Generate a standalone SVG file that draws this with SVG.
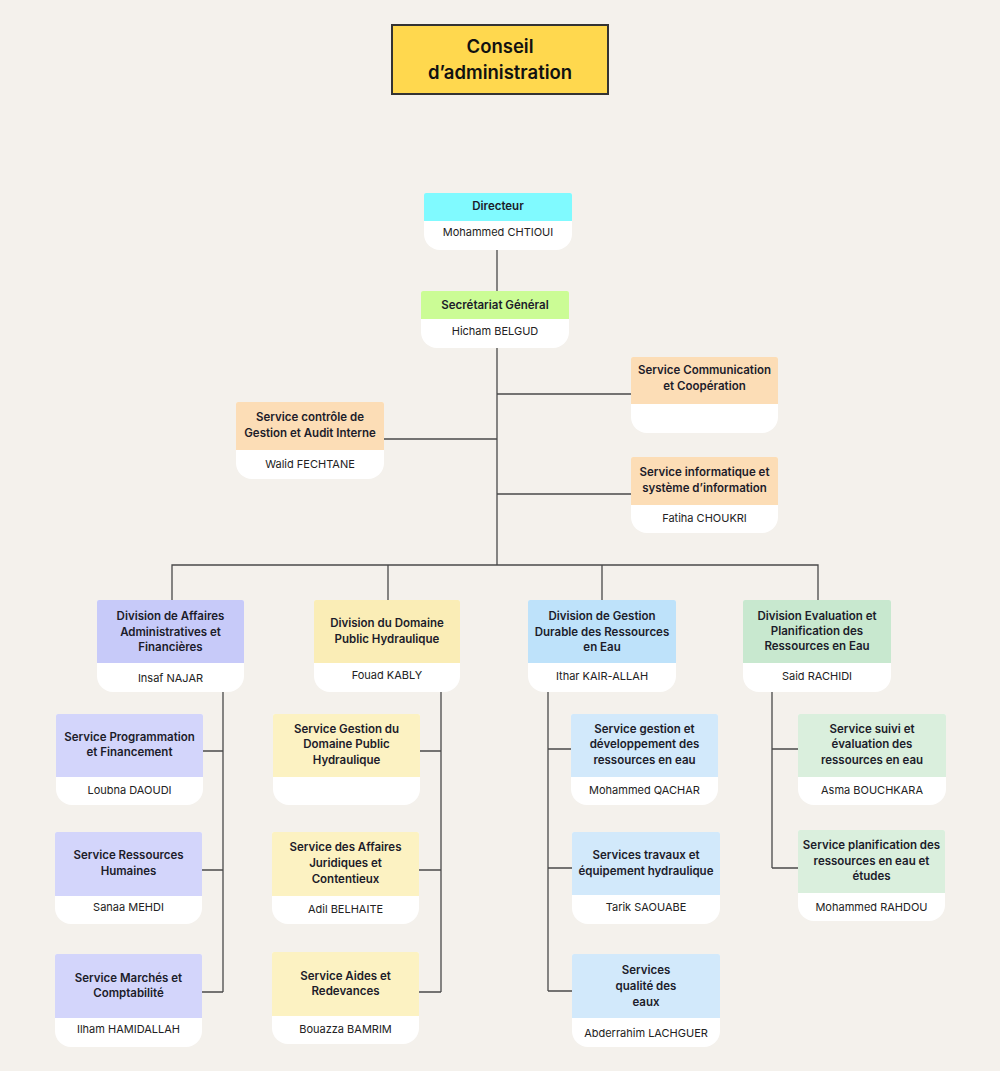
<svg xmlns="http://www.w3.org/2000/svg" width="1000" height="1071" viewBox="0 0 1000 1071">
<style>
.t{font-family:Inter,"Noto Sans","Liberation Sans",sans-serif;font-size:11.5px;font-weight:600;fill:#1c1c2a;text-anchor:middle}
.n{font-family:Inter,"Noto Sans","Liberation Sans",sans-serif;font-size:11px;font-weight:400;fill:#222;text-anchor:middle}
.c{font-family:Inter,"Noto Sans","Liberation Sans",sans-serif;font-size:18.5px;font-weight:600;fill:#111;text-anchor:middle}
.w{fill:#fff}
.line{fill:none;stroke:#4a4a4a;stroke-width:1.3}
.cy{fill:#80FAFF}.gr{fill:#CBFC95}.or{fill:#FCDDB6}
.pd{fill:#C7CAF9}.ps{fill:#D3D5FB}
.yd{fill:#FAEDB6}.ys{fill:#FCF2C2}
.bd{fill:#BEE2FA}.bs{fill:#D2E9FB}
.gd{fill:#C8E8CF}.gs{fill:#DAEFDD}
</style>
<rect width="1000" height="1071" fill="#F4F1EC"/>
<g id="connectors">
<path class="line" d="M497 250V291M497 348V565M497 394H631M384 439H497M497 494H631"/>
<path class="line" d="M172 600V565H818V600M388 565V600M602 565V600"/>
<path class="line" d="M223 692V992M203 751H223M202 870H223M202 992H223"/>
<path class="line" d="M441 692V992M420 751H441M419 870H441M419 992H441"/>
<path class="line" d="M548 692V991M548 749H571M548 868H572M548 991H572"/>
<path class="line" d="M772 692V868M772 749H798M772 868H798"/>
</g>
<g id="conseil">
<rect x="392" y="25" width="216" height="69" fill="#FFD84E" stroke="#333" stroke-width="2"/>
<text class="c" x="500" y="53">Conseil</text>
<text class="c" x="500" y="79">d’administration</text>
</g>
<g id="directeur">
<path class="w" d="M426 193H570A2 2 0 0 1 572 195V234A16 16 0 0 1 556 250H440A16 16 0 0 1 424 234V195A2 2 0 0 1 426 193Z"/>
<path class="cy" d="M426 193H570A2 2 0 0 1 572 195V221H424V195A2 2 0 0 1 426 193Z"/>
<text class="t" x="498" y="210">Directeur</text>
<text class="n" x="498" y="236">Mohammed CHTIOUI</text>
</g>
<g id="secretariat">
<path class="w" d="M423 291H567A2 2 0 0 1 569 293V332A16 16 0 0 1 553 348H437A16 16 0 0 1 421 332V293A2 2 0 0 1 423 291Z"/>
<path class="gr" d="M423 291H567A2 2 0 0 1 569 293V319H421V293A2 2 0 0 1 423 291Z"/>
<text class="t" x="495" y="309">Secrétariat Général</text>
<text class="n" x="495" y="335">Hicham BELGUD</text>
</g>
<g id="controle">
<path class="w" d="M238 402H382A2 2 0 0 1 384 404V463A16 16 0 0 1 368 479H252A16 16 0 0 1 236 463V404A2 2 0 0 1 238 402Z"/>
<path class="or" d="M238 402H382A2 2 0 0 1 384 404V450H236V404A2 2 0 0 1 238 402Z"/>
<text class="t" x="310" y="421">Service contrôle de</text>
<text class="t" x="310" y="437">Gestion et Audit Interne</text>
<text class="n" x="310" y="468">Walid FECHTANE</text>
</g>
<g id="communication">
<path class="w" d="M633 357H776A2 2 0 0 1 778 359V417A16 16 0 0 1 762 433H647A16 16 0 0 1 631 417V359A2 2 0 0 1 633 357Z"/>
<path class="or" d="M633 357H776A2 2 0 0 1 778 359V404H631V359A2 2 0 0 1 633 357Z"/>
<text class="t" x="704.5" y="374">Service Communication</text>
<text class="t" x="704.5" y="390">et Coopération</text>
</g>
<g id="informatique">
<path class="w" d="M633 457H776A2 2 0 0 1 778 459V517A16 16 0 0 1 762 533H647A16 16 0 0 1 631 517V459A2 2 0 0 1 633 457Z"/>
<path class="or" d="M633 457H776A2 2 0 0 1 778 459V505H631V459A2 2 0 0 1 633 457Z"/>
<text class="t" x="704.5" y="476">Service informatique et</text>
<text class="t" x="704.5" y="492">système d’information</text>
<text class="n" x="704.5" y="522">Fatiha CHOUKRI</text>
</g>
<g id="div-affaires">
<path class="w" d="M99 600H242A2 2 0 0 1 244 602V676A16 16 0 0 1 228 692H113A16 16 0 0 1 97 676V602A2 2 0 0 1 99 600Z"/>
<path class="pd" d="M99 600H242A2 2 0 0 1 244 602V663H97V602A2 2 0 0 1 99 600Z"/>
<text class="t" x="170.5" y="620">Division de Affaires</text>
<text class="t" x="170.5" y="636">Administratives et</text>
<text class="t" x="170.5" y="651">Financières</text>
<text class="n" x="170.5" y="682">Insaf NAJAR</text>
</g>
<g id="div-domaine">
<path class="w" d="M316 600H458A2 2 0 0 1 460 602V676A16 16 0 0 1 444 692H330A16 16 0 0 1 314 676V602A2 2 0 0 1 316 600Z"/>
<path class="yd" d="M316 600H458A2 2 0 0 1 460 602V663H314V602A2 2 0 0 1 316 600Z"/>
<text class="t" x="387" y="627">Division du Domaine</text>
<text class="t" x="387" y="643">Public Hydraulique</text>
<text class="n" x="387" y="679">Fouad KABLY</text>
</g>
<g id="div-gestion">
<path class="w" d="M530 600H674A2 2 0 0 1 676 602V676A16 16 0 0 1 660 692H544A16 16 0 0 1 528 676V602A2 2 0 0 1 530 600Z"/>
<path class="bd" d="M530 600H674A2 2 0 0 1 676 602V663H528V602A2 2 0 0 1 530 600Z"/>
<text class="t" x="602" y="620">Division de Gestion</text>
<text class="t" x="602" y="636">Durable des Ressources</text>
<text class="t" x="602" y="651">en Eau</text>
<text class="n" x="602" y="680">Ithar KAIR-ALLAH</text>
</g>
<g id="div-evaluation">
<path class="w" d="M745 600H889A2 2 0 0 1 891 602V676A16 16 0 0 1 875 692H759A16 16 0 0 1 743 676V602A2 2 0 0 1 745 600Z"/>
<path class="gd" d="M745 600H889A2 2 0 0 1 891 602V663H743V602A2 2 0 0 1 745 600Z"/>
<text class="t" x="817" y="620">Division Evaluation et</text>
<text class="t" x="817" y="635">Planification des</text>
<text class="t" x="817" y="650">Ressources en Eau</text>
<text class="n" x="817" y="680">Said RACHIDI</text>
</g>
<g id="programmation">
<path class="w" d="M58 714H201A2 2 0 0 1 203 716V789A16 16 0 0 1 187 805H72A16 16 0 0 1 56 789V716A2 2 0 0 1 58 714Z"/>
<path class="ps" d="M58 714H201A2 2 0 0 1 203 716V777H56V716A2 2 0 0 1 58 714Z"/>
<text class="t" x="129.5" y="741">Service Programmation</text>
<text class="t" x="129.5" y="756">et Financement</text>
<text class="n" x="129.5" y="794">Loubna DAOUDI</text>
</g>
<g id="rh">
<path class="w" d="M57 832H200A2 2 0 0 1 202 834V908A16 16 0 0 1 186 924H71A16 16 0 0 1 55 908V834A2 2 0 0 1 57 832Z"/>
<path class="ps" d="M57 832H200A2 2 0 0 1 202 834V896H55V834A2 2 0 0 1 57 832Z"/>
<text class="t" x="128.5" y="859">Service Ressources</text>
<text class="t" x="128.5" y="875">Humaines</text>
<text class="n" x="128.5" y="911">Sanaa MEHDI</text>
</g>
<g id="marches">
<path class="w" d="M57 954H200A2 2 0 0 1 202 956V1031A16 16 0 0 1 186 1047H71A16 16 0 0 1 55 1031V956A2 2 0 0 1 57 954Z"/>
<path class="ps" d="M57 954H200A2 2 0 0 1 202 956V1018H55V956A2 2 0 0 1 57 954Z"/>
<text class="t" x="128.5" y="982">Service Marchés et</text>
<text class="t" x="128.5" y="997">Comptabilité</text>
<text class="n" x="128.5" y="1033">Ilham HAMIDALLAH</text>
</g>
<g id="gestion-domaine">
<path class="w" d="M275 714H418A2 2 0 0 1 420 716V789A16 16 0 0 1 404 805H289A16 16 0 0 1 273 789V716A2 2 0 0 1 275 714Z"/>
<path class="ys" d="M275 714H418A2 2 0 0 1 420 716V777H273V716A2 2 0 0 1 275 714Z"/>
<text class="t" x="346.5" y="733">Service Gestion du</text>
<text class="t" x="346.5" y="748">Domaine Public</text>
<text class="t" x="346.5" y="764">Hydraulique</text>
</g>
<g id="juridiques">
<path class="w" d="M274 832H417A2 2 0 0 1 419 834V908A16 16 0 0 1 403 924H288A16 16 0 0 1 272 908V834A2 2 0 0 1 274 832Z"/>
<path class="ys" d="M274 832H417A2 2 0 0 1 419 834V896H272V834A2 2 0 0 1 274 832Z"/>
<text class="t" x="345.5" y="851">Service des Affaires</text>
<text class="t" x="345.5" y="867">Juridiques et</text>
<text class="t" x="345.5" y="883">Contentieux</text>
<text class="n" x="345.5" y="913">Adil BELHAITE</text>
</g>
<g id="aides">
<path class="w" d="M274 952H417A2 2 0 0 1 419 954V1028A16 16 0 0 1 403 1044H288A16 16 0 0 1 272 1028V954A2 2 0 0 1 274 952Z"/>
<path class="ys" d="M274 952H417A2 2 0 0 1 419 954V1016H272V954A2 2 0 0 1 274 952Z"/>
<text class="t" x="345.5" y="980">Service Aides et</text>
<text class="t" x="345.5" y="995">Redevances</text>
<text class="n" x="345.5" y="1033">Bouazza BAMRIM</text>
</g>
<g id="developpement">
<path class="w" d="M573 714H716A2 2 0 0 1 718 716V789A16 16 0 0 1 702 805H587A16 16 0 0 1 571 789V716A2 2 0 0 1 573 714Z"/>
<path class="bs" d="M573 714H716A2 2 0 0 1 718 716V777H571V716A2 2 0 0 1 573 714Z"/>
<text class="t" x="644.5" y="733">Service gestion et</text>
<text class="t" x="644.5" y="748">développement des</text>
<text class="t" x="644.5" y="764">ressources en eau</text>
<text class="n" x="644.5" y="794">Mohammed QACHAR</text>
</g>
<g id="travaux">
<path class="w" d="M574 832H718A2 2 0 0 1 720 834V908A16 16 0 0 1 704 924H588A16 16 0 0 1 572 908V834A2 2 0 0 1 574 832Z"/>
<path class="bs" d="M574 832H718A2 2 0 0 1 720 834V895H572V834A2 2 0 0 1 574 832Z"/>
<text class="t" x="646" y="859">Services travaux et</text>
<text class="t" x="646" y="875">équipement hydraulique</text>
<text class="n" x="646" y="911">Tarik SAOUABE</text>
</g>
<g id="qualite">
<path class="w" d="M574 954H718A2 2 0 0 1 720 956V1031A16 16 0 0 1 704 1047H588A16 16 0 0 1 572 1031V956A2 2 0 0 1 574 954Z"/>
<path class="bs" d="M574 954H718A2 2 0 0 1 720 956V1018H572V956A2 2 0 0 1 574 954Z"/>
<text class="t" x="646" y="974">Services</text>
<text class="t" x="646" y="990">qualité des</text>
<text class="t" x="646" y="1006">eaux</text>
<text class="n" x="646" y="1037">Abderrahim LACHGUER</text>
</g>
<g id="suivi">
<path class="w" d="M800 714H944A2 2 0 0 1 946 716V789A16 16 0 0 1 930 805H814A16 16 0 0 1 798 789V716A2 2 0 0 1 800 714Z"/>
<path class="gs" d="M800 714H944A2 2 0 0 1 946 716V777H798V716A2 2 0 0 1 800 714Z"/>
<text class="t" x="872" y="733">Service suivi et</text>
<text class="t" x="872" y="748">évaluation des</text>
<text class="t" x="872" y="764">ressources en eau</text>
<text class="n" x="872" y="794">Asma BOUCHKARA</text>
</g>
<g id="planification">
<path class="w" d="M800 830H943A2 2 0 0 1 945 832V905A16 16 0 0 1 929 921H814A16 16 0 0 1 798 905V832A2 2 0 0 1 800 830Z"/>
<path class="gs" d="M800 830H943A2 2 0 0 1 945 832V893H798V832A2 2 0 0 1 800 830Z"/>
<text class="t" x="871.5" y="849">Service planification des</text>
<text class="t" x="871.5" y="865">ressources en eau et</text>
<text class="t" x="871.5" y="880">études</text>
<text class="n" x="871.5" y="911">Mohammed RAHDOU</text>
</g>
</svg>
